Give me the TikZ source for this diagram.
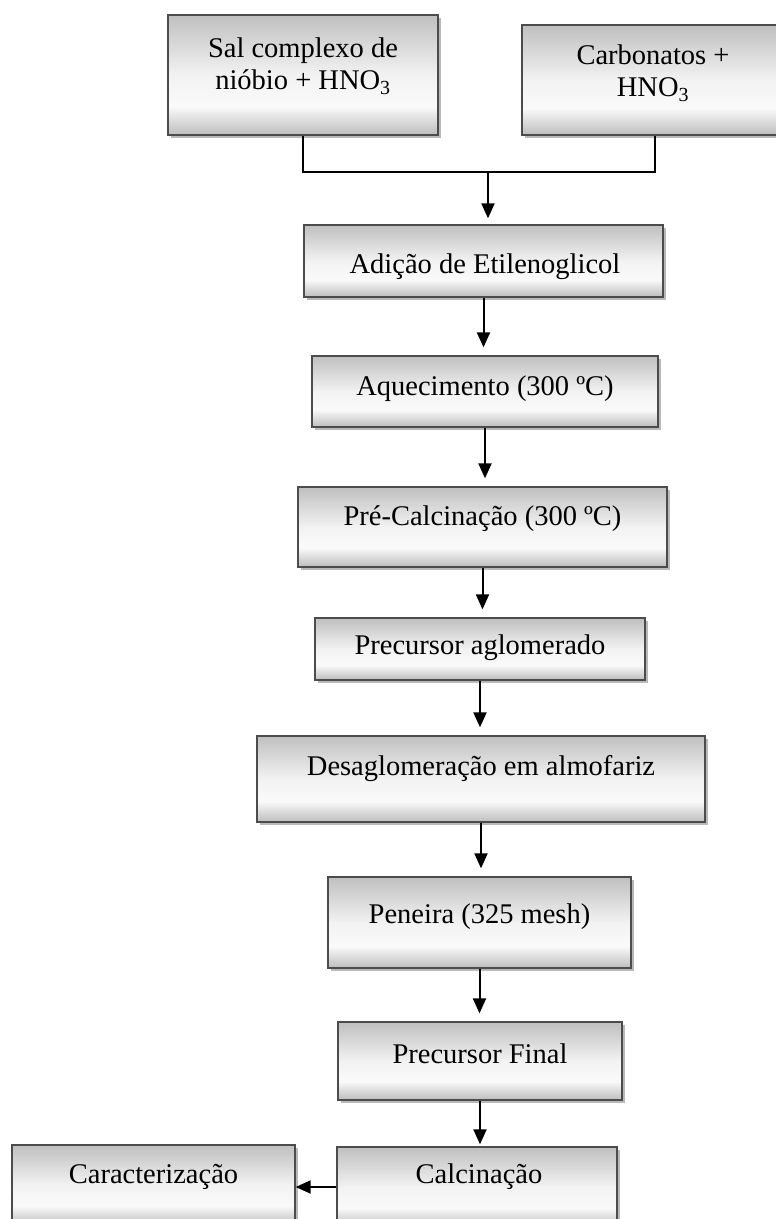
\documentclass[tikz,border=0pt]{standalone}
\usepackage{fontspec}
\setmainfont{Liberation Serif}
\usetikzlibrary{arrows.meta,shadows,calc}
\pgfdeclareverticalshading{boxshade}{100bp}{color(0bp)=(gray!52); color(25bp)=(gray!52); color(37bp)=(gray!4); color(50bp)=(gray!10); color(75bp)=(gray!50); color(100bp)=(gray!50)}
\tikzset{
  box/.style={rectangle, draw=gray!60!black, line width=1.3pt, shade, shading=boxshade,
    drop shadow={shadow xshift=3pt, shadow yshift=-3pt, fill=gray!55, opacity=1},
    inner sep=0pt},
  lbl/.style={font=\fontsize{28.5}{32}\selectfont, align=center, inner sep=0pt, text=black},
  arr/.style={line width=2pt, -{Triangle[length=15pt,width=13pt]}},
  link/.style={line width=2pt}
}
\begin{document}
\begin{tikzpicture}[x=1pt,y=-1pt]
\useasboundingbox (0,0) rectangle (776,1219);
\clip (0,0) rectangle (776,1219);
\fill[white] (0,0) rectangle (776,1219);
% boxes
\node[box, minimum width=270pt, minimum height=120pt] (sal) at (303,75) {};
\node[box, minimum width=266pt, minimum height=110pt] (carb) at (655,80) {};
\node[box, minimum width=359pt, minimum height=72pt] (adicao) at (483.5,261) {};
\node[box, minimum width=346pt, minimum height=71pt] (aquec) at (485,391.5) {};
\node[box, minimum width=369pt, minimum height=80pt] (precalc) at (482.5,527) {};
\node[box, minimum width=330pt, minimum height=62pt] (precaglo) at (480,649) {};
\node[box, minimum width=448pt, minimum height=86pt] (desaglo) at (481,779) {};
\node[box, minimum width=303pt, minimum height=91pt] (peneira) at (479.5,922.5) {};
\node[box, minimum width=284pt, minimum height=78pt] (precfinal) at (480,1061) {};
\node[box, minimum width=280pt, minimum height=80pt] (calc) at (477,1187) {};
\node[box, minimum width=283pt, minimum height=80pt] (carac) at (153.5,1185) {};
% labels
\node[lbl] (salt) at (303,66) {Sal complexo de\\nióbio + HNO\textsubscript{3}};
\node[lbl] (carbt) at (653,73) {Carbonatos +\\HNO\textsubscript{3}};
\node[lbl] (adicaot) at (485,267) {Adição de Etilenoglicol};
\node[lbl] (aquect) at (485,389) {Aquecimento (300 ºC)};
\node[lbl] (precalct) at (482.5,519) {Pré-Calcinação (300 ºC)};
\node[lbl] (precaglot) at (480,648) {Precursor aglomerado};
\node[lbl] (desaglot) at (481,769) {Desaglomeração em almofariz};
\node[lbl] (peneirat) at (479.5,917) {Peneira (325 mesh)};
\node[lbl] (precfinalt) at (480,1054) {Precursor Final};
\node[lbl] (calct) at (479,1177) {Calcinação};
\node[lbl] (caract) at (153.5,1177) {Caracterização};
% connectors
\coordinate (join) at (488,172);
\draw[link] (sal.south) -- (sal.south |- join) -- (carb.south |- join) -- (carb.south);
\draw[arr, shorten >=6pt] (join) -- (join |- adicao.north);
\draw[arr, shorten >=8pt] (adicao.south) -- (adicao.south |- aquec.north);
\draw[arr, shorten >=8pt] (aquec.south) -- (aquec.south |- precalc.north);
\draw[arr, shorten >=8pt] (precalc.south) -- (precalc.south |- precaglo.north);
\draw[arr, shorten >=8pt] (precaglo.south) -- (precaglo.south |- desaglo.north);
\draw[arr, shorten >=8pt] (desaglo.south) -- (desaglo.south |- peneira.north);
\draw[arr, shorten >=8pt] (peneira.south) -- (peneira.south |- precfinal.north);
\draw[arr, shorten >=2pt] (precfinal.south) -- (precfinal.south |- calc.north);
\draw[arr] (calc.west) -- (calc.west -| carac.east);
\end{tikzpicture}
\end{document}
